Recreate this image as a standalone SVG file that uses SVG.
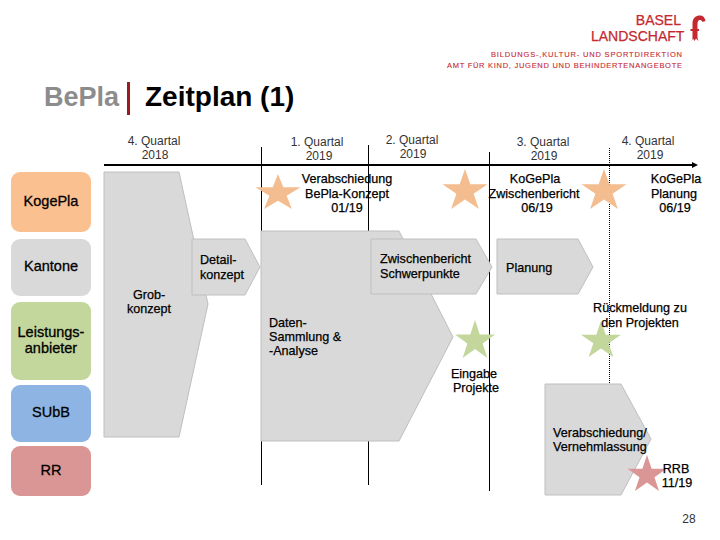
<svg xmlns="http://www.w3.org/2000/svg" width="720" height="540" viewBox="0 0 720 540">
<style>
text{font-family:"Liberation Sans",Arial,sans-serif;fill:#000}
.l{font-size:12.6px;stroke:#000;stroke-width:.25px}
.c{text-anchor:middle}
.q{font-size:12px;fill:#333;text-anchor:middle}
.leg{font-size:14.5px;stroke:#000;stroke-width:.3px;text-anchor:middle}
.shape{fill:#d9d9d9;stroke:#bfbfbf;stroke-width:1}
.v{stroke:#000;stroke-width:1;fill:none}
.logo{fill:#c5282e;stroke:#c5282e;stroke-width:.25px}
</style>
<defs>
<polygon id="star" points="0,0 23.6,38.2 100,38.2 38.2,61.8 61.8,100 0,76.4 -61.8,100 -38.2,61.8 -100,38.2 -23.6,38.2"/>
<marker id="ah" markerWidth="6" markerHeight="6" refX="0" refY="3" orient="auto" markerUnits="userSpaceOnUse"><path d="M0,0L6,3L0,6z" fill="#000"/></marker>
</defs>
<g id="logo">
<text class="logo" x="681" y="25" font-size="14" text-anchor="end">BASEL</text>
<text class="logo" x="591" y="41" font-size="14">LANDSCHAFT</text>
<path fill="#c5282e" d="M692.500,29L692.500,23C692.500,18 696,15.500 700,15.500C703,15.500 705,17.500 705.500,21L702.500,22C701.500,20 700,19.500 698.500,20.500C697.500,21.500 697.500,23 697.500,29L699,29L699,31L697.500,31L697.500,38L698.500,41L696,38.500L694.500,41L693,38.500L691.500,41L692.500,38L692.500,31L690.500,31L690.500,29z"/>
<text class="logo" x="491" y="57" font-size="7.500" style="stroke-width:.1px" textLength="191" lengthAdjust="spacing">BILDUNGS-,KULTUR- UND SPORTDIREKTION</text>
<text class="logo" x="447" y="68" font-size="7.500" style="stroke-width:.1px" textLength="235" lengthAdjust="spacing">AMT FÜR KIND, JUGEND UND BEHINDERTENANGEBOTE</text>
</g>
<g id="title">
<text x="44" y="106" font-size="27" font-weight="700" style="fill:#8c8c8c">BePla</text>
<rect x="127" y="82" width="3" height="33" fill="#9b1c1f"/>
<text x="145" y="106" font-size="28" font-weight="700">Zeitplan (1)</text>
</g>
<g id="connectors">
<line class="v" x1="261.500" y1="147" x2="261.500" y2="485"/>
<line class="v" x1="368.500" y1="145" x2="368.500" y2="485"/>
<line class="v" x1="489.500" y1="152" x2="489.500" y2="491"/>
<line class="v" x1="609.500" y1="148" x2="609.500" y2="383" stroke-dasharray="1 1"/>
<line x1="104" y1="165" x2="692" y2="165" stroke="#000" stroke-width="2" marker-end="url(#ah)"/>
</g>
<g id="quarters">
<text class="q" x="154" y="145">4. Quartal</text><text class="q" x="155" y="159">2018</text>
<text class="q" x="317" y="146">1. Quartal</text><text class="q" x="319" y="160">2019</text>
<text class="q" x="412" y="144">2. Quartal</text><text class="q" x="413" y="158">2019</text>
<text class="q" x="543" y="146">3. Quartal</text><text class="q" x="544" y="160">2019</text>
<text class="q" x="648" y="145">4. Quartal</text><text class="q" x="650" y="159">2019</text>
</g>
<g id="legend-kogepla"><rect x="11" y="172" width="80" height="60" rx="9" fill="#fac090"/><text class="leg" x="51" y="206">KogePla</text></g>
<g id="legend-kantone"><rect x="11" y="239" width="80" height="57" rx="9" fill="#d9d9d9"/><text class="leg" x="51" y="271">Kantone</text></g>
<g id="legend-leistungsanbieter"><rect x="11" y="302" width="80" height="78" rx="9" fill="#c3d69b"/><text class="leg" x="51" y="337">Leistungs-</text><text class="leg" x="51" y="353">anbieter</text></g>
<g id="legend-subb"><rect x="11" y="385" width="80" height="57" rx="9" fill="#8eb4e3"/><text class="leg" x="51" y="417">SUbB</text></g>
<g id="legend-rr"><rect x="11" y="446" width="80" height="50" rx="9" fill="#d99694"/><text class="leg" x="51" y="475">RR</text></g>
<g id="grobkonzept"><polygon class="shape" points="104,172 179,172 208,304 179,437 104,437"/><text class="l c" x="149" y="299">Grob-</text><text class="l c" x="149" y="313">konzept</text></g>
<g id="detailkonzept"><polygon class="shape" points="192,239 245,239 260,267 245,295 192,295"/><text class="l" x="200" y="264">Detail-</text><text class="l" x="200" y="279">konzept</text></g>
<g id="datensammlung"><polygon class="shape" points="261,231 399,231 453,337 399,441 261,441"/><text class="l" x="269" y="327">Daten-</text><text class="l" x="269" y="341">Sammlung &amp;</text><text class="l" x="269" y="355">-Analyse</text></g>
<g id="zwischenbericht"><polygon class="shape" points="371,239 476,239 492,267 476,294 371,294"/><text class="l" x="380" y="263">Zwischenbericht</text><text class="l" x="380" y="278">Schwerpunkte</text></g>
<g id="planung"><polygon class="shape" points="497,239 578,239 593,267 578,294 497,294"/><text class="l" x="506" y="272">Planung</text></g>
<g id="verabschiedung"><polygon class="shape" points="545,384 621,384 651,439 621,495 545,495"/><text class="l" x="553" y="437">Verabschiedung/</text><text class="l" x="553" y="451">Vernehmlassung</text></g>
<g id="stars">
<use href="#star" fill="#f4bd8f" transform="translate(278,174) scale(.225,.35)"/>
<use href="#star" fill="#f4bd8f" transform="translate(465,169) scale(.225,.4)"/>
<use href="#star" fill="#f4bd8f" transform="translate(604,169) scale(.225,.4)"/>
<use href="#star" fill="#c3d69b" transform="translate(475,320) scale(.2,.38)"/>
<use href="#star" fill="#c3d69b" transform="translate(601,321) scale(.2,.36)"/>
<use href="#star" fill="#d99694" transform="translate(647,455) scale(.195,.36)"/>
</g>
<g id="milestones">
<text class="l c" x="347" y="183">Verabschiedung</text><text class="l c" x="347" y="198">BePla-Konzept</text><text class="l c" x="347" y="212">01/19</text>
<text class="l c" x="535" y="183">KoGePla</text><text class="l c" x="534" y="198">Zwischenbericht</text><text class="l c" x="537" y="212">06/19</text>
<text class="l c" x="676" y="183">KoGePla</text><text class="l c" x="674" y="198">Planung</text><text class="l c" x="675" y="212">06/19</text>
<text class="l c" x="640" y="312">Rückmeldung zu</text><text class="l c" x="640" y="327">den Projekten</text>
<text class="l c" x="474" y="378">Eingabe</text><text class="l c" x="476" y="392">Projekte</text>
<text class="l c" x="676" y="473">RRB</text><text class="l c" x="677" y="487">11/19</text>
</g>
<text x="689" y="523" font-size="12" text-anchor="middle" style="fill:#333">28</text>
</svg>
